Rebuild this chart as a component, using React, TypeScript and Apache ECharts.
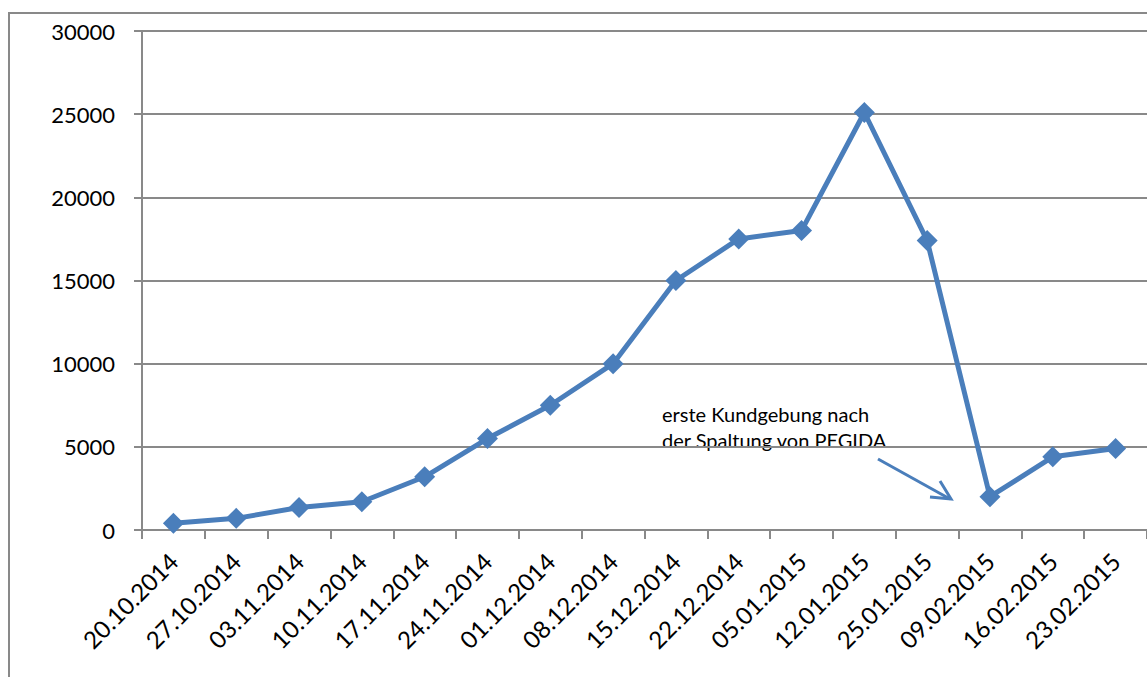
import React, { useEffect, useRef } from "react";
import * as echarts from "echarts";

const categories = [
  "20.10.2014", "27.10.2014", "03.11.2014", "10.11.2014", "17.11.2014",
  "24.11.2014", "01.12.2014", "08.12.2014", "15.12.2014", "22.12.2014",
  "05.01.2015", "12.01.2015", "25.01.2015", "09.02.2015", "16.02.2015",
  "23.02.2015",
];
const participants = [
  400, 700, 1350, 1700, 3200, 5500, 7500, 10000, 15000, 17500, 18000, 25100,
  17400, 2000, 4400, 4900,
];
const yTicks = { min: 0, max: 30000, interval: 5000 };
const annotationLines = ["erste Kundgebung nach", "der Spaltung von PEGIDA"];

const BLUE = "#4a7ebb";
const GRAY = "#898989";
const FONT = "Lato";

export default function App() {
  const ref = useRef<HTMLDivElement>(null);
  useEffect(() => {
    if (!ref.current) return;
    const chart = echarts.init(ref.current, undefined, { renderer: "svg" });
    chart.setOption({
      animation: false,
      backgroundColor: "#ffffff",
      grid: { left: 142, top: 31, bottom: 147, right: -6, containLabel: false },
      xAxis: {
        type: "category",
        data: categories,
        boundaryGap: true,
        axisLine: { show: true, lineStyle: { color: GRAY, width: 2 } },
        axisTick: { show: true, length: 9, lineStyle: { color: GRAY, width: 2 } },
        axisLabel: {
          rotate: 45,
          interval: 0,
          margin: 27,
          color: "#000",
          fontFamily: FONT,
          fontSize: 24,
        },
        splitLine: { show: false },
      },
      yAxis: {
        type: "value",
        min: yTicks.min,
        max: yTicks.max,
        interval: yTicks.interval,
        axisLine: { show: true, lineStyle: { color: GRAY, width: 2 } },
        axisTick: { show: true, length: 8, lineStyle: { color: GRAY, width: 2 } },
        axisLabel: {
          margin: 27,
          color: "#000",
          fontFamily: FONT,
          fontSize: 22,
          formatter: (v: number) => String(v),
        },
        splitLine: { show: true, lineStyle: { color: GRAY, width: 2 } },
      },
      series: [
        {
          type: "line",
          data: participants,
          symbol: "diamond",
          symbolSize: 21,
          lineStyle: { color: BLUE, width: 5 },
          itemStyle: { color: BLUE },
          z: 3,
        },
      ],
      graphic: [
        {
          type: "polyline",
          shape: { points: [[9, 700], [9, 13], [1200, 13]] },
          style: { stroke: GRAY, lineWidth: 2, fill: "none" },
          silent: true,
        },
        {
          type: "text",
          x: 662,
          y: 401,
          style: {
            text: annotationLines.join("\n"),
            fontFamily: FONT,
            fontSize: 20,
            lineHeight: 26,
            fill: "#000",
          },
          silent: true,
        },
        {
          type: "line",
          shape: { x1: 878, y1: 459, x2: 950, y2: 499 },
          style: { stroke: BLUE, lineWidth: 3 },
          silent: true,
        },
        {
          type: "polyline",
          shape: { points: [[930, 497], [951, 499], [940, 481]] },
          style: { stroke: BLUE, lineWidth: 3, fill: "none" },
          silent: true,
        },
      ],
    });
    return () => chart.dispose();
  }, []);
  return (
    <div
      ref={ref}
      style={{ position: "fixed", left: 0, top: 0, width: 1147, height: 677 }}
    />
  );
}
